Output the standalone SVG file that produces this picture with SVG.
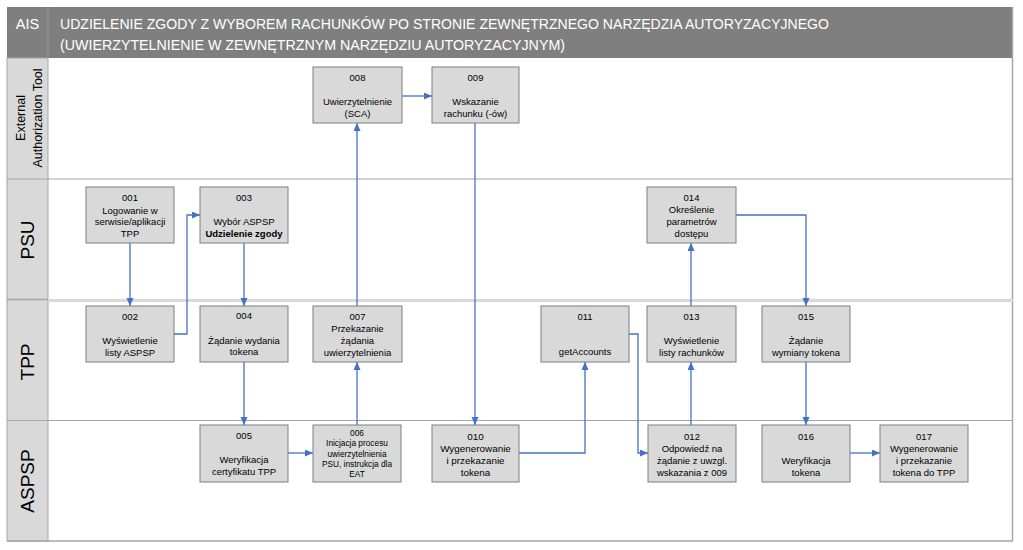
<svg xmlns="http://www.w3.org/2000/svg" width="1023" height="550" viewBox="0 0 1023 550">
<style>
.hdr{font-family:"Liberation Sans",Arial,sans-serif;fill:#fff;font-size:14.5px}
.lane{font-family:"Liberation Sans",Arial,sans-serif;fill:#000;font-size:19px}
.lane-s{font-family:"Liberation Sans",Arial,sans-serif;fill:#000;font-size:12.5px}
.box{fill:#d9d9d9;stroke:#7f7f7f;stroke-width:1}
.t{font-family:"Liberation Sans",Arial,sans-serif;font-size:9.5px;fill:#000;text-anchor:middle}
.ts{font-size:8.3px}
.tl{font-size:9.9px}
.b{font-weight:bold}
.con{fill:none;stroke:#4472c4;stroke-width:1.3;marker-end:url(#arr)}
</style>
<defs>
<marker id="arr" markerUnits="userSpaceOnUse" markerWidth="9" markerHeight="8" refX="8" refY="3.5" orient="auto">
<path d="M0,0 L8,3.5 L0,7 z" fill="#4472c4"/>
</marker>
</defs>
<rect width="1023" height="550" fill="#fff"/>
<g id="frame">
<rect x="7" y="7" width="1006" height="51" fill="#7f7f7f"/>
<line x1="48" y1="7" x2="48" y2="58" stroke="#999" stroke-width="1"/>
<rect x="7" y="58" width="41" height="483" fill="#d9d9d9" stroke="#a6a6a6" stroke-width="1"/>
<line x1="1012.5" y1="7" x2="1012.5" y2="541" stroke="#a6a6a6" stroke-width="1.5"/>
<line x1="7" y1="541" x2="1013" y2="541" stroke="#a6a6a6" stroke-width="1.5"/>
<line x1="7" y1="179" x2="1013" y2="179" stroke="#a6a6a6" stroke-width="1"/>
<line x1="48" y1="300.5" x2="1013" y2="300.5" stroke="#d9d9d9" stroke-width="3"/>
<line x1="7" y1="299.5" x2="48" y2="299.5" stroke="#a6a6a6" stroke-width="1.5"/>
<line x1="7" y1="420.5" x2="1013" y2="420.5" stroke="#a6a6a6" stroke-width="1.2"/>
<text class="hdr" x="27.5" y="29" text-anchor="middle">AIS</text>
<text class="hdr" x="60" y="29" textLength="769" lengthAdjust="spacingAndGlyphs">UDZIELENIE ZGODY Z WYBOREM RACHUNKÓW PO STRONIE ZEWNĘTRZNEGO NARZĘDZIA AUTORYZACYJNEGO</text>
<text class="hdr" x="60" y="50" textLength="505" lengthAdjust="spacingAndGlyphs">(UWIERZYTELNIENIE W ZEWNĘTRZNYM NARZĘDZIU AUTORYZACYJNYM)</text>
</g>
<g id="lane-eat"><text class="lane-s" transform="translate(25,118) rotate(-90)" text-anchor="middle">External</text><text class="lane-s" transform="translate(42,118) rotate(-90)" text-anchor="middle">Authorization Tool</text></g>
<g id="lane-psu"><text class="lane" transform="translate(34,240) rotate(-90)" text-anchor="middle">PSU</text></g>
<g id="lane-tpp"><text class="lane" transform="translate(34,362) rotate(-90)" text-anchor="middle">TPP</text></g>
<g id="lane-aspsp"><text class="lane" transform="translate(34,481) rotate(-90)" text-anchor="middle">ASPSP</text></g>

<g id="connectors">
<path class="con" d="M130,243 V306"/>
<path class="con" d="M174,334 H187 V215 H200"/>
<path class="con" d="M244,243 V306"/>
<path class="con" d="M244,362 V425"/>
<path class="con" d="M288,453 H313"/>
<path class="con" d="M357,425 V362"/>
<path class="con" d="M357,306 V123"/>
<path class="con" d="M402,96 H432"/>
<path class="con" d="M475,123 V425"/>
<path class="con" d="M519,453 H585 V362"/>
<path class="con" d="M629,334 H638 V453 H648"/>
<path class="con" d="M691,425 V362"/>
<path class="con" d="M691,306 V243"/>
<path class="con" d="M736,215 H806 V306"/>
<path class="con" d="M806,362 V425"/>
<path class="con" d="M850,453 H880"/>
</g>

<g id="n001"><rect class="box" x="86" y="187" width="88" height="56"/><text class="t"><tspan x="130" y="200.5">001</tspan><tspan x="130" y="213.5">Logowanie w</tspan><tspan x="130" y="225">serwisie/aplikacji</tspan><tspan x="130" y="236.5">TPP</tspan></text></g>
<g id="n003"><rect class="box" x="200" y="187" width="88" height="56"/><text class="t"><tspan x="244" y="200.5">003</tspan><tspan x="244" y="225">Wybór ASPSP</tspan><tspan class="b" x="244" y="236.5">Udzielenie zgody</tspan></text></g>
<g id="n008"><rect class="box" x="313" y="67" width="89" height="56"/><text class="t"><tspan x="357.5" y="80.5">008</tspan><tspan x="357.5" y="105">Uwierzytelnienie</tspan><tspan x="357.5" y="116.5">(SCA)</tspan></text></g>
<g id="n009"><rect class="box" x="432" y="67" width="87" height="56"/><text class="t"><tspan x="475.5" y="80.5">009</tspan><tspan x="475.5" y="105">Wskazanie</tspan><tspan x="475.5" y="116.5">rachunku (-ów)</tspan></text></g>
<g id="n014"><rect class="box" x="647" y="187" width="89" height="56"/><text class="t"><tspan x="691.5" y="200.5">014</tspan><tspan x="691.5" y="212.5">Określenie</tspan><tspan x="691.5" y="224.5">parametrów</tspan><tspan x="691.5" y="236.5">dostępu</tspan></text></g>
<g id="n002"><rect class="box" x="86" y="306" width="88" height="56"/><text class="t"><tspan x="130" y="320">002</tspan><tspan x="130" y="344">Wyświetlenie</tspan><tspan x="130" y="355.5">listy ASPSP</tspan></text></g>
<g id="n004"><rect class="box" x="200" y="306" width="88" height="56"/><text class="t"><tspan x="244" y="319">004</tspan><tspan x="244" y="343.5">Żądanie wydania</tspan><tspan x="244" y="355">tokena</tspan></text></g>
<g id="n007"><rect class="box" x="313" y="306" width="89" height="56"/><text class="t"><tspan x="357.5" y="319.5">007</tspan><tspan x="357.5" y="331.5">Przekazanie</tspan><tspan x="357.5" y="343.5">żądania</tspan><tspan x="357.5" y="355.5">uwierzytelnienia</tspan></text></g>
<g id="n011"><rect class="box" x="541" y="306" width="88" height="56"/><text class="t"><tspan x="585" y="319.5">011</tspan><tspan x="585" y="354.5">getAccounts</tspan></text></g>
<g id="n013"><rect class="box" x="647" y="306" width="89" height="56"/><text class="t"><tspan x="691.5" y="319.5">013</tspan><tspan x="691.5" y="344">Wyświetlenie</tspan><tspan x="691.5" y="355.5">listy rachunków</tspan></text></g>
<g id="n015"><rect class="box" x="762" y="306" width="88" height="56"/><text class="t"><tspan x="806" y="319.5">015</tspan><tspan x="806" y="344">Żądanie</tspan><tspan x="806" y="355.5">wymiany tokena</tspan></text></g>
<g id="n005"><rect class="box" x="200" y="425" width="88" height="57"/><text class="t"><tspan x="244" y="439">005</tspan><tspan x="244" y="462.5">Weryfikacja</tspan><tspan x="244" y="475">certyfikatu TPP</tspan></text></g>
<g id="n006"><rect class="box" x="313" y="425" width="88" height="57"/><text class="t ts"><tspan x="357" y="435.5">006</tspan><tspan x="357" y="446">Inicjacja procesu</tspan><tspan x="357" y="456.5">uwierzytelnienia</tspan><tspan x="357" y="467">PSU, instrukcja dla</tspan><tspan x="357" y="477">EAT</tspan></text></g>
<g id="n010"><rect class="box" x="432" y="425" width="87" height="57"/><text class="t tl"><tspan x="475.5" y="439.5">010</tspan><tspan x="475.5" y="451.5">Wygenerowanie</tspan><tspan x="475.5" y="463.5">i przekazanie</tspan><tspan x="475.5" y="475.5">tokena</tspan></text></g>
<g id="n012"><rect class="box" x="648" y="425" width="88" height="57"/><text class="t"><tspan x="692" y="439.5">012</tspan><tspan x="692" y="451.5">Odpowiedź na</tspan><tspan x="692" y="463.5">żądanie z uwzgl.</tspan><tspan x="692" y="475.5">wskazania z 009</tspan></text></g>
<g id="n016"><rect class="box" x="762" y="425" width="88" height="57"/><text class="t"><tspan x="806" y="439.5">016</tspan><tspan x="806" y="463.5">Weryfikacja</tspan><tspan x="806" y="475.5">tokena</tspan></text></g>
<g id="n017"><rect class="box" x="880" y="425" width="88" height="57"/><text class="t"><tspan x="924" y="439.5">017</tspan><tspan x="924" y="451.5">Wygenerowanie</tspan><tspan x="924" y="463.5">i przekazanie</tspan><tspan x="924" y="475.5">tokena do TPP</tspan></text></g>
</svg>
